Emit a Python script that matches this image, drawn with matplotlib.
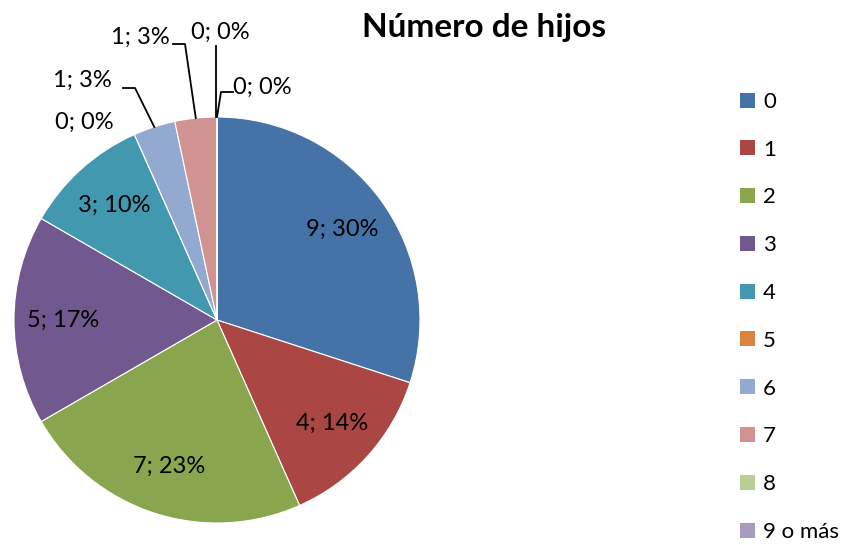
import numpy as np
import matplotlib
matplotlib.use('Agg')
import matplotlib.pyplot as plt
from matplotlib.patches import Patch

plt.rcParams['font.family'] = ['Lato', 'DejaVu Sans']

categories = ['0', '1', '2', '3', '4', '5', '6', '7', '8', '9 o más']
values = [9, 4, 7, 5, 3, 0, 1, 1, 0, 0]
pct_labels = ['30%', '14%', '23%', '17%', '10%', '0%', '3%', '3%', '0%', '0%']
colors = ['#4572A7', '#AA4643', '#89A54E', '#71588F', '#4198AF',
          '#DB843D', '#93A9CF', '#D19392', '#B9CD96', '#A99BBD']

W, H = 847, 545
fig = plt.figure(figsize=(W / 100, H / 100), dpi=100)
ax = fig.add_axes([0, 0, 1, 1])

cx, cy, R = 217, H - 320, 203
wedges, _ = ax.pie(values, colors=colors, startangle=90, counterclock=False,
                   center=(cx, cy), radius=R, frame=True,
                   wedgeprops=dict(edgecolor='white', linewidth=0.8))
ax.set_xlim(0, W)
ax.set_ylim(0, H)
ax.axis('off')

fs = 17
texts = ['%d; %s' % (v, p) for v, p in zip(values, pct_labels)]

# inside labels for the big slices
for i in range(5):
    w = wedges[i]
    ang = np.deg2rad((w.theta1 + w.theta2) / 2)
    ax.text(cx + 0.76 * R * np.cos(ang), cy + 0.76 * R * np.sin(ang), texts[i],
            ha='center', va='center', fontsize=fs)

# outside labels: label centre and leader elbow, pixels from the top
outside = {
    5: ((84, 122), None),
    6: ((82, 80), (135, 88)),
    7: ((140, 37), (185, 44)),
    8: ((220, 32), None),
    9: ((262, 87), (221, 92)),
}
for i, (pos, elbow) in outside.items():
    w = wedges[i]
    ang = np.deg2rad((w.theta1 + w.theta2) / 2)
    ex, ey = cx + R * np.cos(ang), cy + R * np.sin(ang)
    ax.text(pos[0], H - pos[1], texts[i], ha='center', va='center', fontsize=fs)
    if i == 8:
        ax.plot([ex - 1, ex - 1], [ey, H - 46], color='black', lw=1.3)
    elif elbow is not None:
        d = 12 if elbow[0] > pos[0] else -12
        ax.plot([elbow[0] - d, elbow[0], ex], [H - elbow[1], H - elbow[1], ey],
                color='black', lw=1.3)

ax.text(484, H - 28, 'Número de hijos', ha='center', va='center',
        fontsize=24, fontweight='bold')

handles = [Patch(facecolor=c, edgecolor='none') for c in colors]
fig.legend(handles, categories, loc='upper left', bbox_to_anchor=(731 / W, 1 - 83 / H),
           frameon=False, fontsize=16, handlelength=0.66, handleheight=0.66,
           handletextpad=0.38, labelspacing=1.25, borderaxespad=0)

fig.savefig('out.png', dpi=100)
